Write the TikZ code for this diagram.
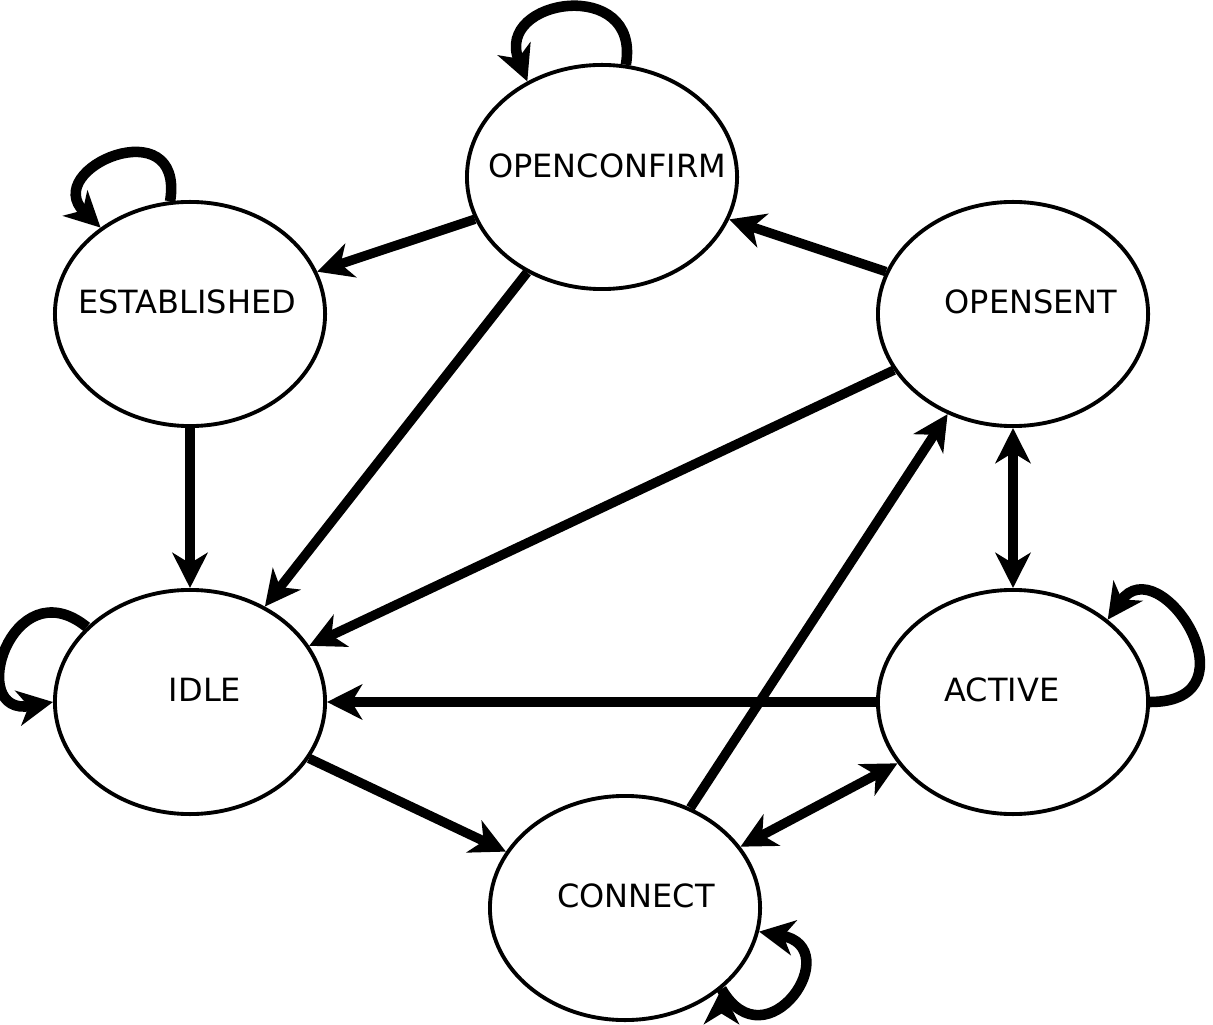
\documentclass[tikz,border=0pt]{standalone}
\usepackage{fontspec}
\setmainfont{DejaVu Sans}
\usetikzlibrary{arrows.meta,shapes.geometric}

\begin{document}
\begin{tikzpicture}[x=0.01cm,y=0.01cm]
				\tikzset{state/.style={draw,ellipse,line width=1.1pt,minimum width=2.70cm,minimum height=2.24cm,inner sep=0pt},
					statename/.style={font=\fontsize{9.1pt}{11pt}\selectfont,inner sep=0pt},
					tip/.style={-{Stealth[length=10pt,width=10pt,inset=3pt]}},
					tips/.style={{Stealth[length=10pt,width=10pt,inset=3pt]}-{Stealth[length=10pt,width=10pt,inset=3pt]}},
					trans/.style={line width=2.7pt},
					selfloop/.style={line width=3pt}}
				\useasboundingbox (0,0) rectangle (1213,1024);
				\node [state] (openconfirm) at (602,847) {};
				\node [state] (established) at (190,710) {};
				\node [state] (opensent) at (1013,710) {};
				\node [state] (idle) at (190,322) {};
				\node [state] (active) at (1013,322) {};
				\node [state] (connect) at (625,116) {};
				\node [statename] at (607,858) {OPENCONFIRM};
				\node [statename] at (187,722) {ESTABLISHED};
				\node [statename] at (1031,722) {OPENSENT};
				\node [statename] at (205,334) {IDLE};
				\node [statename] at (1002,334) {ACTIVE};
				\node [statename] at (636,128) {CONNECT};
				\path[draw,trans,tip] (openconfirm) edge (established)
							(openconfirm) edge (idle)
							(opensent) edge (openconfirm)
							(opensent) edge (idle)
							(established) edge (idle)
							(active) edge (idle)
							(idle) edge (connect)
							(connect) edge (opensent);
				\path[draw,trans,tips] (opensent) edge (active)
							(connect) edge (active);
				% self loops
				\path[draw,selfloop,tip] (openconfirm.78) edge[out=80,in=112,distance=0.9cm] (openconfirm.128)
							(established.100) edge[out=81,in=136,out distance=0.95cm,in distance=0.85cm] (established.136)
							(idle.144) edge[out=141,in=190,out distance=0.97cm,in distance=0.9cm] (idle.180)
							(active.0) edge[out=0,in=55,out distance=1.1cm,in distance=0.9cm] (active.41)
							(connect.-40) edge[out=-60,in=-10,distance=0.9cm] (connect.-10);
\end{tikzpicture}
\end{document}
